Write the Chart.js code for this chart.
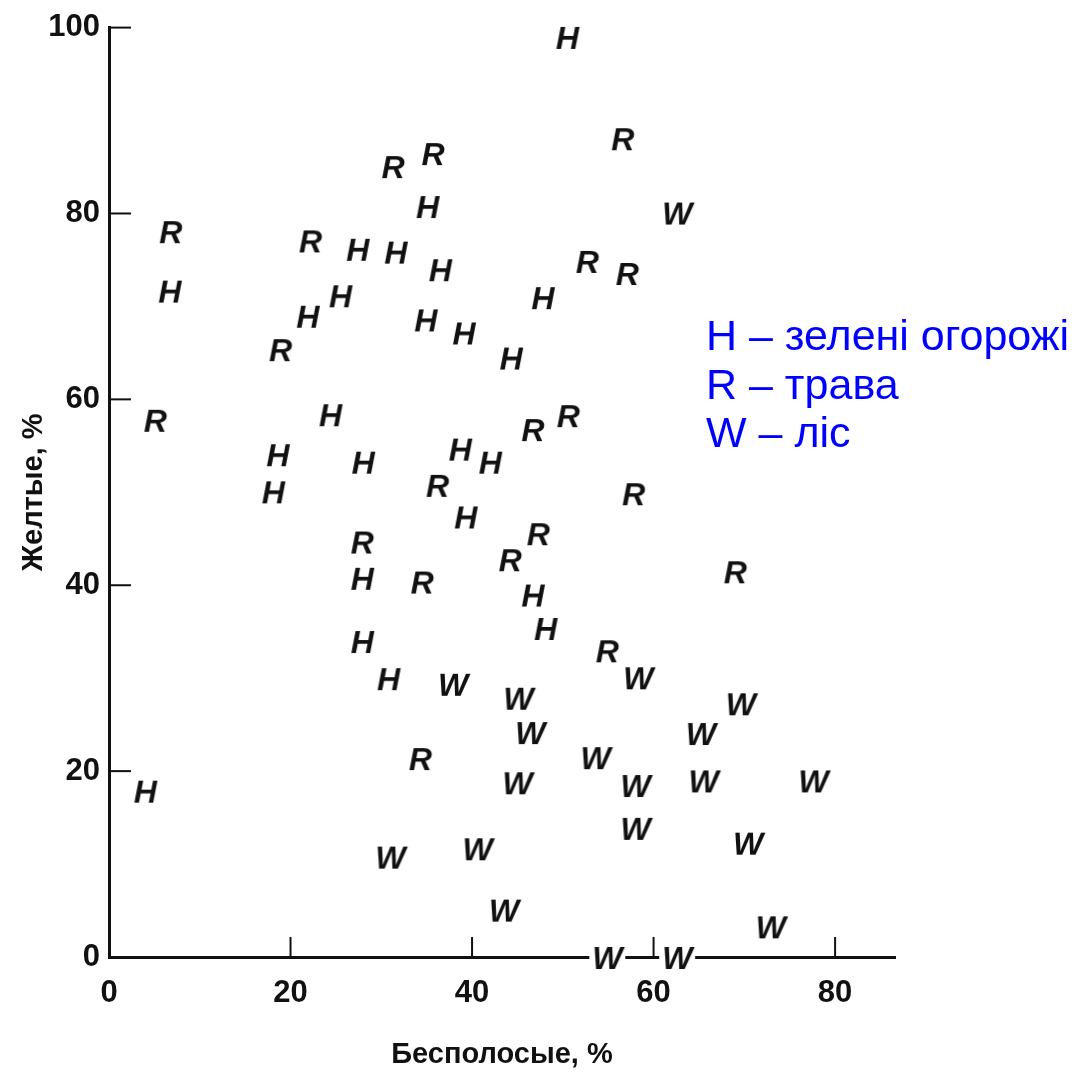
<!DOCTYPE html>
<html>
<head>
<meta charset="utf-8">
<script src="https://cdn.jsdelivr.net/npm/chart.js@4.4.1/dist/chart.umd.min.js"></script>
<style>
  body { margin: 0; background: #fff; }
  #wrap { position: relative; width: 1083px; height: 1072px; }
  #key {
    position: absolute; left: 706px; top: 311px;
    font-family: "Liberation Sans", Arial, sans-serif;
    font-size: 43px; line-height: 48.5px; color: #0000ff;
    white-space: nowrap;
  }
</style>
</head>
<body>
<div id="wrap">
  <canvas id="chart" width="1083" height="1072"></canvas>
  <div id="key">H – зелені огорожі<br>R – трава<br>W – ліс</div>
</div>
<script>
/**
 * DATA
 */
const xTickValues = [0, 20, 40, 60, 80];
const yTickValues = [0, 20, 40, 60, 80, 100];

// H – green hedges
const hX = [50.5, 35.1, 27.4, 31.6, 36.5, 25.5, 47.8, 21.9, 34.9, 39.1, 44.3, 6.7, 24.4,
            18.6, 18.1, 28.0, 38.7, 42.0, 39.3, 27.9, 46.7, 48.1, 27.9, 30.8, 4.0];
const hY = [99.0, 80.8, 76.2, 75.9, 74.0, 71.2, 71.0, 69.0, 68.6, 67.2, 64.5, 71.7, 58.4,
            54.1, 50.1, 53.3, 54.7, 53.3, 47.4, 40.8, 39.0, 35.4, 34.0, 30.0, 17.9];

// R – grass
const rX = [6.8, 22.2, 18.9, 31.3, 35.7, 56.6, 52.7, 57.1, 5.1, 46.7,
            50.6, 36.2, 57.8, 47.3, 44.2, 27.9, 34.5, 54.9, 69.0, 34.3];
const rY = [78.1, 77.1, 65.4, 85.1, 86.5, 88.1, 74.9, 73.6, 57.8, 56.8,
            58.3, 50.8, 49.9, 45.6, 42.8, 44.7, 40.4, 33.0, 41.5, 21.4];

// W – forest
const wX = [62.6, 58.3, 37.9, 45.1, 46.4, 65.2, 69.6, 53.6, 45.0, 58.0,
            65.5, 77.6, 58.0, 70.4, 31.0, 40.6, 43.5, 72.9, 54.9, 62.6];
const wY = [80.1, 30.1, 29.4, 27.9, 24.2, 24.1, 27.3, 21.5, 18.8, 18.5,
            19.0, 19.0, 13.9, 12.3, 10.8, 11.7, 5.1, 3.3, 0.0, 0.0];

/**
 * AUX
 */
const toPoints = (xs, ys) => xs.map((x, i) => ({ x: x, y: ys[i] }));

// letter used as point marker
const letterCanvas = (ch, withBg) => {
  const c = document.createElement("canvas");
  c.width = 42;
  c.height = 34;
  const g = c.getContext("2d");
  if (withBg) {
    g.fillStyle = "#fff";
    g.fillRect(3, 4, 36, 26);
  }
  g.font = 'italic bold 32px "Liberation Sans", Arial, sans-serif';
  g.fillStyle = "#111";
  g.textAlign = "center";
  g.textBaseline = "alphabetic";
  g.fillText(ch, 21, 17 + 11.5);
  return c;
};

// short tick marks pointing into the plot
const innerTicks = {
  id: "innerTicks",
  beforeDatasetsDraw(chart) {
    const { ctx, scales: { x, y } } = chart;
    ctx.save();
    ctx.strokeStyle = "#111";
    ctx.lineWidth = 2;
    yTickValues.filter(v => v > 0).forEach(v => {
      const py = y.getPixelForValue(v);
      ctx.beginPath();
      ctx.moveTo(x.left, py);
      ctx.lineTo(x.left + 22, py);
      ctx.stroke();
    });
    xTickValues.filter(v => v > 0).forEach(v => {
      const px = x.getPixelForValue(v);
      ctx.beginPath();
      ctx.moveTo(px, y.bottom);
      ctx.lineTo(px, y.bottom - 20);
      ctx.stroke();
    });
    ctx.restore();
  }
};

Chart.defaults.font.family = '"Liberation Sans", Arial, sans-serif';
Chart.defaults.color = "#111";

const markerDataset = (label, points, ch, withBg) => ({
  label: label,
  data: points,
  pointStyle: letterCanvas(ch, withBg),
  pointRadius: 12,
  clip: false
});

new Chart(document.getElementById("chart"), {
  type: "scatter",
  data: {
    datasets: [
      markerDataset("H", toPoints(hX, hY), "H", false),
      markerDataset("R", toPoints(rX, rY), "R", false),
      markerDataset("W", toPoints(wX, wY), "W", true)
    ]
  },
  options: {
    responsive: false,
    animation: false,
    layout: { padding: { left: 17, top: 22, right: 188, bottom: 0 } },
    plugins: {
      legend: { display: false },
      tooltip: { enabled: false }
    },
    scales: {
      x: {
        type: "linear",
        min: 0,
        max: 86.6,
        afterBuildTicks: (scale) => { scale.ticks = xTickValues.map(v => ({ value: v })); },
        afterFit: (scale) => { scale.height = 115; },
        grid: { display: false, drawTicks: false },
        border: { display: true, color: "#111", width: 3 },
        ticks: { padding: 18, font: { size: 31, weight: "bold" }, maxRotation: 0 },
        title: {
          display: true,
          text: "Бесполосые, %",
          font: { size: 29, weight: "bold" },
          padding: { top: 0, bottom: 0 }
        }
      },
      y: {
        type: "linear",
        min: 0,
        max: 100,
        afterBuildTicks: (scale) => { scale.ticks = yTickValues.map(v => ({ value: v })); },
        afterFit: (scale) => { scale.width = 92; },
        grid: { display: false, drawTicks: false },
        border: { display: true, color: "#111", width: 3 },
        ticks: { padding: 9, font: { size: 31, weight: "bold" } },
        title: {
          display: true,
          text: "Желтые, %",
          font: { size: 29, weight: "bold" },
          padding: { top: 0, bottom: 0 }
        }
      }
    }
  },
  plugins: [innerTicks]
});
</script>
</body>
</html>
